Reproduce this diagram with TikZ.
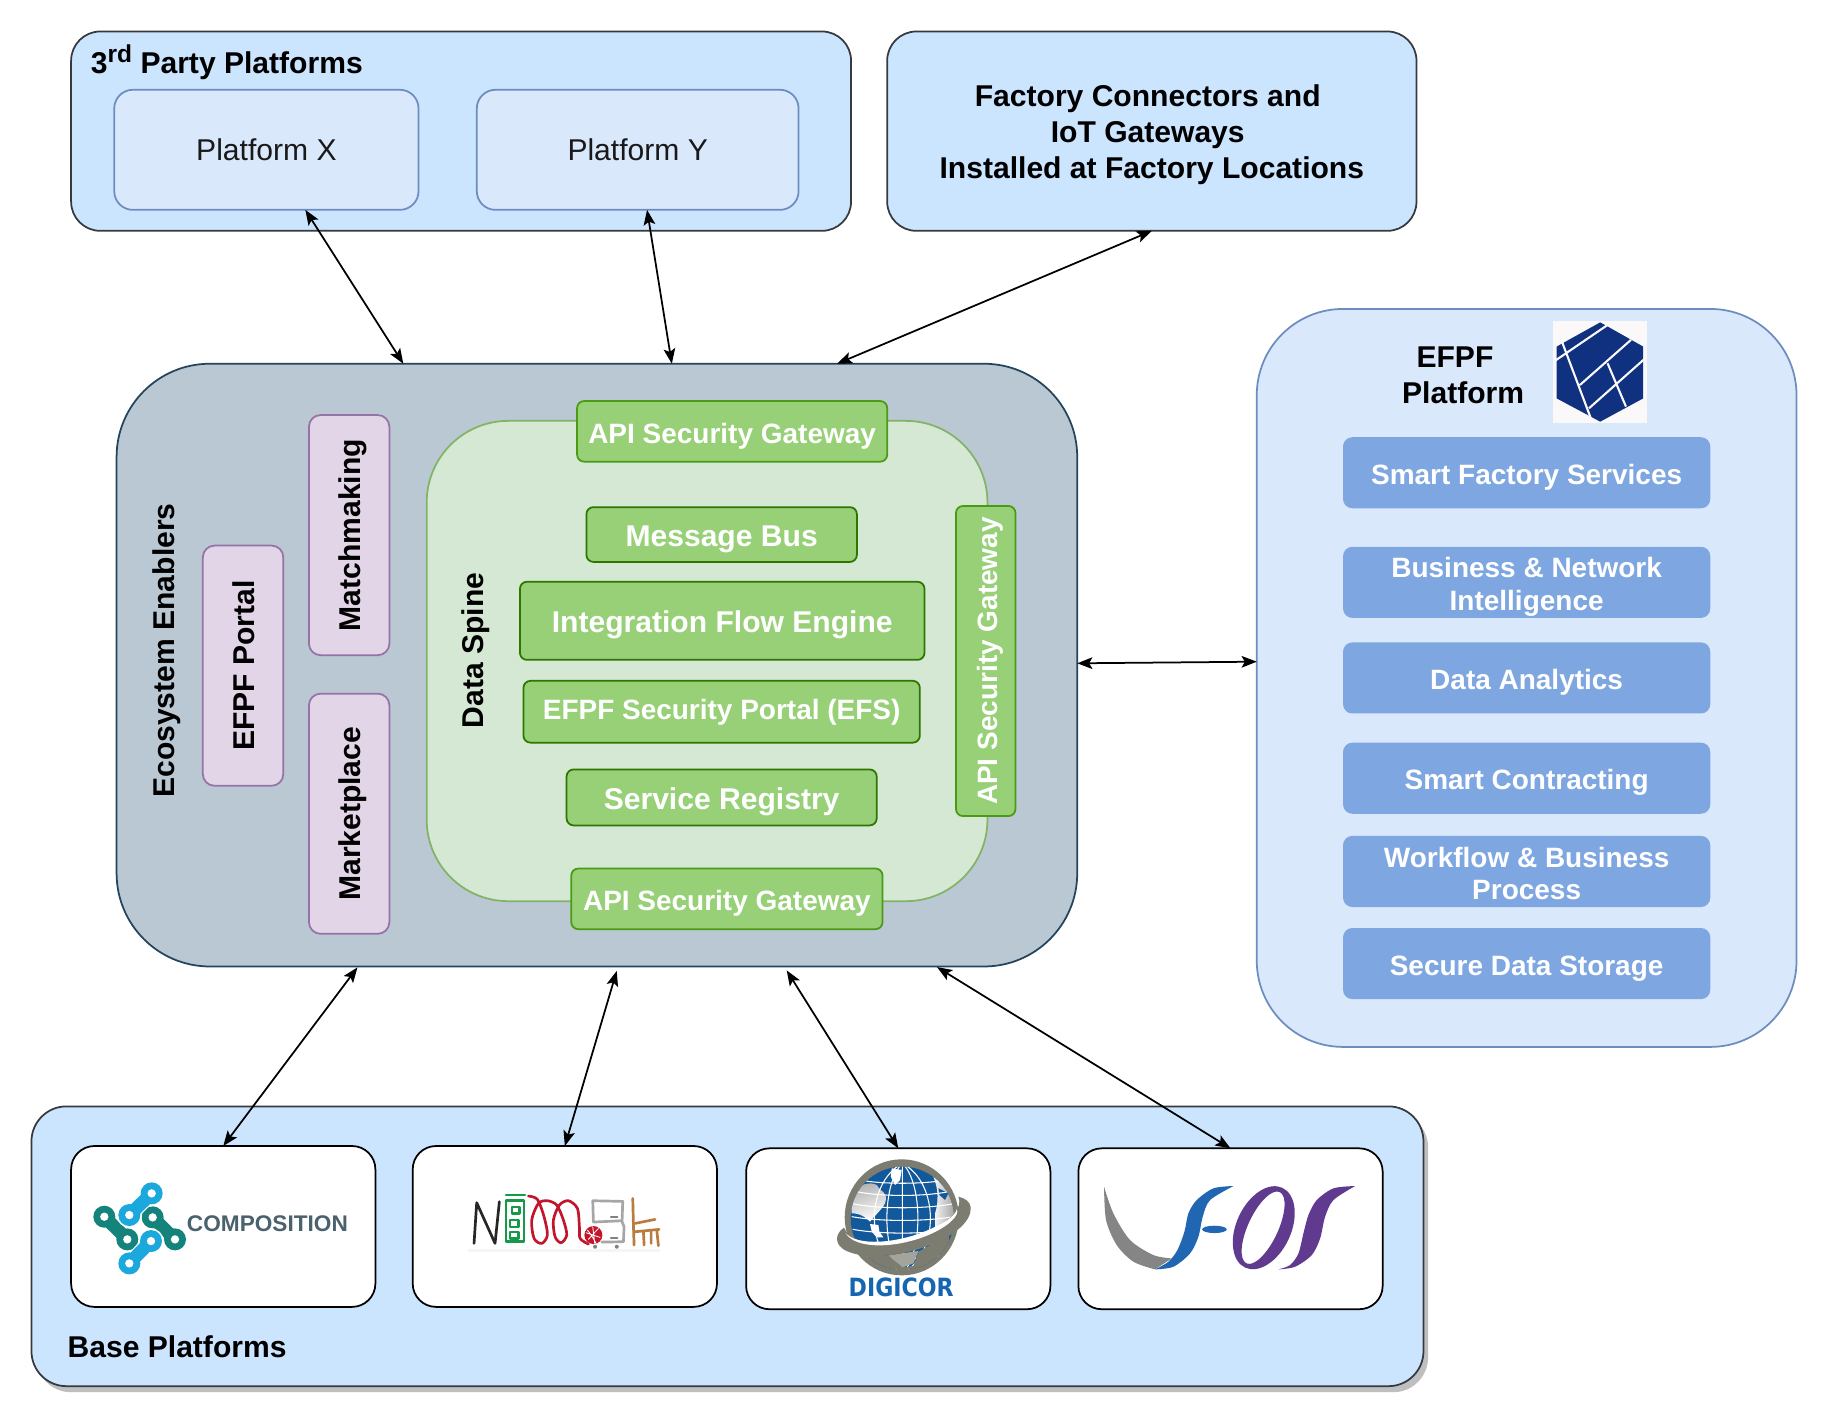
\documentclass[tikz,border=0pt]{standalone}
\usepackage{fontspec}
\usepackage{graphicx}
\setmainfont{Liberation Sans}
\newfontfamily\digifont{DejaVu Sans}
\usetikzlibrary{arrows.meta,calc,shadows}
\definecolor{paleblue}{HTML}{CCE5FF}
\definecolor{lightblue}{HTML}{DAE8FC}
\definecolor{bluedge}{HTML}{6C8EBF}
\definecolor{darkedge}{HTML}{36393D}
\definecolor{svcblue}{HTML}{7EA6E0}
\definecolor{slate}{HTML}{BAC8D3}
\definecolor{slateedge}{HTML}{23445D}
\definecolor{spinefill}{HTML}{D5E8D4}
\definecolor{spineedge}{HTML}{82B366}
\definecolor{gwfill}{HTML}{97D077}
\definecolor{gwedge}{HTML}{4A9A14}
\definecolor{gwdark}{HTML}{2D7600}
\definecolor{purplefill}{HTML}{E1D5E7}
\definecolor{purpleedge}{HTML}{9673A6}
\definecolor{comptxt}{HTML}{4A616E}
\definecolor{compteal}{HTML}{14837B}
\definecolor{compcyan}{HTML}{1BA8DC}
\definecolor{nimgreen}{HTML}{169A4A}
\definecolor{nimred}{HTML}{C3162C}
\definecolor{nimbrown}{HTML}{B97B3E}
\definecolor{digiblue}{HTML}{1565B0}
\definecolor{digigray}{HTML}{7C7D70}
\definecolor{fosblue}{HTML}{2166B2}
\definecolor{fospurple}{HTML}{5F3A8F}
\definecolor{fosgray}{HTML}{858585}
\definecolor{efpfblue}{HTML}{10317F}
\definecolor{logobg}{HTML}{FBF8FA}
\newcommand{\bx}[7][]{%
  \pgfmathsetmacro{\cxx}{(#3+#5)/2}%
  \pgfmathsetmacro{\cyy}{(#4+#6)/2}%
  \pgfmathsetmacro{\wdd}{(#5-#3)*0.5}%
  \pgfmathsetmacro{\htt}{(#6-#4)*0.5}%
  \node[basebox,minimum width=\wdd pt,minimum height=\htt pt,#1] (#2) at (\cxx,\cyy) {#7};}
\newcommand{\hh}[1]{\rule{0pt}{13pt}#1\rule[-3pt]{0pt}{3pt}}
\newcommand{\vtxt}[1]{\rotatebox{90}{\rule{0pt}{13pt}#1\rule[-3pt]{0pt}{3pt}}}
\tikzset{
  basebox/.style={draw,inner sep=0pt,outer sep=0pt,align=center,line width=0.75pt},
  bold12/.style={font=\fontsize{12}{13.8}\selectfont\bfseries},
  bold13/.style={font=\fontsize{12.9}{15.5}\selectfont\bfseries},
  panel/.style={fill=paleblue,draw=darkedge,rounded corners=12.5pt},
  platbox/.style={fill=lightblue,draw=bluedge,rounded corners=8pt,font=\fontsize{12.9}{15}\selectfont,text=black!90},
  svc/.style={fill=svcblue,draw=none,rounded corners=4pt,text=white,bold12},
  gw/.style={fill=gwfill,draw=gwedge,rounded corners=3pt,text=white,bold12},
  gwmid/.style={fill=gwfill,draw=gwdark,rounded corners=3pt,text=white,bold12},
  gwbig/.style={gwmid,bold13},
  purp/.style={fill=purplefill,draw=purpleedge,rounded corners=5pt,bold13},
  logobox/.style={fill=white,draw=black,rounded corners=10pt},
  lbl/.style={draw=none,inner sep=0pt,outer sep=0pt,bold13},
  conn/.style={{Stealth[length=6.5pt,width=5pt,inset=1.4pt]}-{Stealth[length=6.5pt,width=5pt,inset=1.4pt]},line width=0.75pt,black},
  zoomed/.style={x=0.143pt,y=-0.143pt},
}
\begin{document}
\begin{tikzpicture}[x=0.5pt,y=-0.5pt]
\useasboundingbox (0,0) rectangle (1568,1221.4);
\fill[white] (0,0) rectangle (1568,1221.4);

% top panels
\bx[panel]{third}{61}{27}{730}{198}{}
\node[lbl,anchor=base west] (thirdlbl) at (78,63) {3\raisebox{4.6pt}{\fontsize{10.5}{10.5}\selectfont rd} Party Platforms};
\bx[platbox]{pfx}{98}{77}{359}{180}{Platform X}
\bx[platbox]{pfy}{409}{77}{685}{180}{Platform Y}
\bx[panel,bold13]{factory}{761}{27}{1215}{198}{\hh{Factory Connectors and\kern3.5pt\\IoT Gateways\kern3.5pt\\Installed at Factory Locations}}

% EFPF platform
\bx[fill=lightblue,draw=bluedge,rounded corners=37pt]{efpf}{1078}{265}{1541}{898}{}
\node[lbl] (efpflbl1) at (1248,306) {EFPF};
\node[lbl] (efpflbl2) at (1255,337) {Platform};
\fill[logobg] (1332,275) rectangle (1413,363);
\fill[efpfblue] (1372.6,276.5) -- (1409.5,297.3) -- (1409.5,341.7) -- (1372.6,361.7) -- (1335.2,341.7) -- (1335.2,297.3) -- cycle;
\draw[logobg,line width=0.9pt]
  (1339.4,292) -- (1365,360)
  (1333,310) -- (1380,278)
  (1355.2,330.2) -- (1399,291.5)
  (1363,350.2) -- (1411,307.5)
  (1378.9,311.6) -- (1394.7,348.8);
\bx[svc]{s1}{1152}{375}{1467}{436}{\hh{Smart Factory Services}}
\bx[svc]{s2}{1152}{469}{1467}{530}{\hh{Business \& Network\\Intelligence}}
\bx[svc]{s3}{1152}{551}{1467}{612}{\hh{Data Analytics}}
\bx[svc]{s4}{1152}{637}{1467}{698}{\hh{Smart Contracting}}
\bx[svc]{s5}{1152}{717}{1467}{778}{\hh{Workflow \& Business\\Process}}
\bx[svc]{s6}{1152}{796}{1467}{857}{\hh{Secure Data Storage}}

% ecosystem
\bx[fill=slate,draw=slateedge,rounded corners=40pt]{eco}{100}{312}{924}{829}{}
\node[lbl] (ecolbl) at (139.5,558) {\vtxt{Ecosystem Enablers}};
\bx[purp]{portal}{174}{468}{243}{674}{\vtxt{EFPF Portal}}
\bx[purp]{match}{265}{356}{334}{562}{\vtxt{Matchmaking}}
\bx[purp]{market}{265}{595}{334}{801}{\vtxt{Marketplace}}
\bx[fill=spinefill,draw=spineedge,rounded corners=35pt]{spine}{366}{361}{847}{773}{}
\node[lbl] (spinelbl) at (405,558) {\vtxt{Data Spine}};
\bx[gw]{gwtop}{495}{344}{761}{396}{\hh{API Security Gateway}}
\bx[gw]{gwbot}{490}{745}{757}{797}{\hh{API Security Gateway}}
\bx[gw]{gwright}{820}{434}{871}{700}{\vtxt{API Security Gateway}}
\bx[gwbig]{bus}{503}{435}{735}{482}{\hh{Message Bus}}
\bx[gwbig]{flow}{446}{499}{793}{566}{\hh{Integration Flow Engine}}
\bx[gwmid]{efs}{449}{584}{789}{637}{\rule{0pt}{10pt}EFPF Security Portal (EFS)\rule[-3pt]{0pt}{3pt}}
\bx[gwbig]{reg}{486}{660}{752}{708}{\hh{Service Registry}}

% base platforms
\bx[panel,rounded corners=15pt,drop shadow={shadow xshift=2pt,shadow yshift=-2.6pt,fill=black!25,opacity=1}]{base}{27}{949}{1221}{1189}{}
\node[lbl,anchor=west] (baselbl) at (58,1155) {Base Platforms};
\bx[logobox]{comp}{61}{983}{322}{1121}{}
\bx[logobox]{nimble}{354}{983}{615}{1121}{}
\bx[logobox]{digicor}{640}{985}{901}{1123}{}
\bx[logobox]{fos}{925}{985}{1186}{1123}{}

% COMPOSITION logo
\begin{scope}[shift={(68.6,1003.6)},zoomed]
  \foreach \ax/\ay/\ex/\ey/\cc in {73/140/142/208/compteal,218/142/285/208/compteal,215/70/148/135/compcyan,213/213/148/280/compcyan}{
    \draw[white,line width=6.6pt,line cap=round] (\ax,\ay) -- (\ex,\ey);
    \fill[white] (\ax,\ay) circle[radius=38] (\ex,\ey) circle[radius=38];
    \draw[\cc,line width=5.6pt,line cap=round] (\ax,\ay) -- (\ex,\ey);
    \fill[\cc] (\ax,\ay) circle[radius=33] (\ex,\ey) circle[radius=33];
    \fill[white] (\ax,\ay) circle[radius=12.5] (\ex,\ey) circle[radius=12.5];
  }
\end{scope}
\node[draw=none,inner sep=0pt,text=comptxt,anchor=west,font=\fontsize{9.7}{11}\selectfont\bfseries] (comptext) at (160,1049.5) {COMPOSITION};

% NIMBLE logo
\begin{scope}[shift={(394.6,1012.2)},zoomed,line width=1.15pt,line cap=round,line join=round]
  \fill[black!4] (25,207) rectangle (600,215);
  \draw[black!85] (42,190) -- (50,68) -- (105,190) -- (118,65);
  \draw[nimgreen] (138,62) rectangle (192,185);
  \draw[nimgreen] (138,45) -- (195,45);
  \draw[nimgreen,line width=1pt] (155,80) rectangle (178,100) (150,120) rectangle (175,140) (150,155) rectangle (175,175);
  \draw[nimred] plot[smooth] coordinates {(205,48) (232,58) (252,110) (262,165) (245,190) (222,175) (215,120) (235,70) (262,62) (290,75) (310,120) (320,165) (303,188) (285,170) (280,120) (298,75) (325,62) (352,85) (358,140) (360,175) (385,192)};
  \fill[nimred] (400,165) circle[radius=27];
  \draw[white,line width=0.35pt] (378,158) -- (420,172) (385,178) -- (415,145) (398,140) -- (404,190) (382,150) .. controls (395,165) and (405,185) .. (408,190);
  \begin{scope}[black!35]
    \draw (400,125) -- (398,62) -- (488,64) -- (486,122) -- (400,126);
    \draw (486,125) -- (492,140) -- (490,185) -- (425,186);
  \end{scope}
  \draw[black!50,line width=0.8pt] (452,110) -- (472,110) (452,175) -- (472,175);
  \fill[black!50] (405,200) circle[radius=6] (470,200) circle[radius=6];
  \draw[nimbrown] (518,55) -- (520,135) -- (522,195);
  \draw[nimbrown] (525,130) -- (585,118);
  \draw[nimbrown] (525,155) -- (597,148);
  \draw[nimbrown] (550,155) -- (552,195) (590,150) -- (595,197) (573,155) -- (573,190);
\end{scope}

% DIGICOR logo
\begin{scope}[shift={(703.4,986.4)},zoomed]
  \fill[digigray] (245,202) ellipse[x radius=171,y radius=174];
  \begin{scope}
    \clip (247,205) circle[radius=155];
    \fill[digiblue!88!black] (80,40) rectangle (410,380);
    % left light region
    \shade[left color=black!30,right color=white,shading angle=20]
      (95,130) .. controls (120,100) and (150,95) .. (170,105)
      .. controls (185,130) and (205,125) .. (195,160)
      .. controls (180,185) and (165,195) .. (150,215)
      .. controls (125,190) and (105,190) .. (95,190) -- cycle;
    % right light region
    \shade[left color=white,right color=black!40]
      (335,70) .. controls (350,100) and (360,140) .. (345,190)
      -- (345,235) -- (410,215) -- (410,70) -- cycle;
    \fill[white] (215,55) -- (245,60) -- (240,90) -- (225,105) -- (212,80) -- cycle;
    \fill[white] (150,222) -- (175,225) -- (178,245) -- (190,262) -- (170,262) -- (155,245) -- cycle;
    \fill[digiblue!88!black] (355,115) -- (385,130) -- (375,150) -- (358,135) -- cycle;
    \draw[white,line width=0.45pt]
      (247,40) -- (247,370)
      (247,40) .. controls (185,100) and (185,310) .. (247,370)
      (247,40) .. controls (309,100) and (309,310) .. (247,370)
      (247,40) .. controls (135,100) and (135,310) .. (247,370)
      (247,40) .. controls (359,100) and (359,310) .. (247,370)
      (120,90) .. controls (180,103) and (315,103) .. (375,90)
      (110,125) .. controls (180,140) and (315,140) .. (385,125)
      (100,162) .. controls (180,177) and (315,177) .. (395,162)
      (95,200) .. controls (180,215) and (315,215) .. (400,200)
      (98,238) .. controls (180,253) and (315,253) .. (397,238)
      (110,275) .. controls (180,290) and (315,290) .. (385,275)
      (130,315) .. controls (180,330) and (315,330) .. (365,315);
    % area below the ring
    \fill[digigray] (90,280) -- (150,318) -- (205,316) -- (248,352) -- (280,348) -- (295,305) -- (385,255) -- (410,380) -- (80,380) -- cycle;
    \fill[digigray!70!white] (205,316) -- (295,303) -- (280,340) -- (248,352) -- cycle;
  \end{scope}
  % ring
  \fill[digigray] (72,233) .. controls (45,250) and (40,285) .. (80,303)
    .. controls (140,330) and (240,320) .. (330,285)
    .. controls (400,258) and (455,215) .. (452,172)
    .. controls (450,155) and (435,145) .. (415,140)
    .. controls (428,175) and (395,210) .. (320,245)
    .. controls (230,285) and (100,300) .. (72,233) -- cycle;
  \fill[white] (76,248) .. controls (110,290) and (230,280) .. (320,242)
    .. controls (370,220) and (405,200) .. (410,178)
    .. controls (420,195) and (385,230) .. (325,255)
    .. controls (230,295) and (105,300) .. (76,248) -- cycle;
\end{scope}
\node[draw=none,inner sep=0pt,text=digiblue,font=\digifont\fontsize{9.2}{11}\selectfont\bfseries] (digitext) at (773,1104.5) {\resizebox{45pt}{8pt}{DIGICOR}};

% F-OS logo
\begin{scope}[shift={(935,1003.6)},zoomed]
  \fill[fosgray] plot[smooth] coordinates {(42,50) (48,150) (80,225) (130,275) (195,298)}
    -- (245,265) -- plot[smooth] coordinates {(245,265) (190,255) (120,210) (70,130) (42,50)} -- cycle;
  \fill[fosblue] plot[smooth] coordinates {(430,48) (370,55) (320,90) (295,130) (283,185) (262,240) (235,275) (195,298)}
    -- plot[smooth] coordinates {(195,298) (250,290) (300,250) (325,200) (338,140) (360,90) (430,48)} -- cycle;
  \fill[fosblue] (373,178) ellipse[x radius=37,y radius=11];
  \fill[fospurple,even odd rule] (521,173) ellipse[x radius=82,y radius=132,rotate=-25]
    (519,173) ellipse[x radius=45,y radius=118,rotate=-25];
  \fill[fospurple] plot[smooth] coordinates {(795,48) (730,55) (680,90) (655,135) (640,190) (625,250) (600,285) (565,298)}
    -- plot[smooth] coordinates {(565,298) (615,290) (665,255) (690,205) (705,140) (730,90) (795,48)} -- cycle;
\end{scope}

% connectors
\draw[conn] ($(pfx.south west)!0.628!(pfx.south east)$) -- ($(eco.north west)!0.2985!(eco.north east)$);
\draw[conn] ($(pfy.south west)!0.529!(pfy.south east)$) -- ($(eco.north west)!0.578!(eco.north east)$);
\draw[conn] (factory.south) -- ($(eco.north west)!0.75!(eco.north east)$);
\draw[conn] ($(eco.north east)!0.497!(eco.south east)$) -- ($(efpf.north west)!0.478!(efpf.south west)$);
\draw[conn,shorten <=0.5pt] ($(eco.south west)!0.2515!(eco.south east)$) -- (comp.north);
\draw[conn,shorten <=2pt] ($(eco.south west)!0.522!(eco.south east)$) -- (nimble.north);
\draw[conn,shorten <=2pt] ($(eco.south west)!0.695!(eco.south east)$) -- (digicor.north);
\draw[conn,shorten <=0.5pt] ($(eco.south west)!0.853!(eco.south east)$) -- (fos.north);
\end{tikzpicture}
\end{document}
